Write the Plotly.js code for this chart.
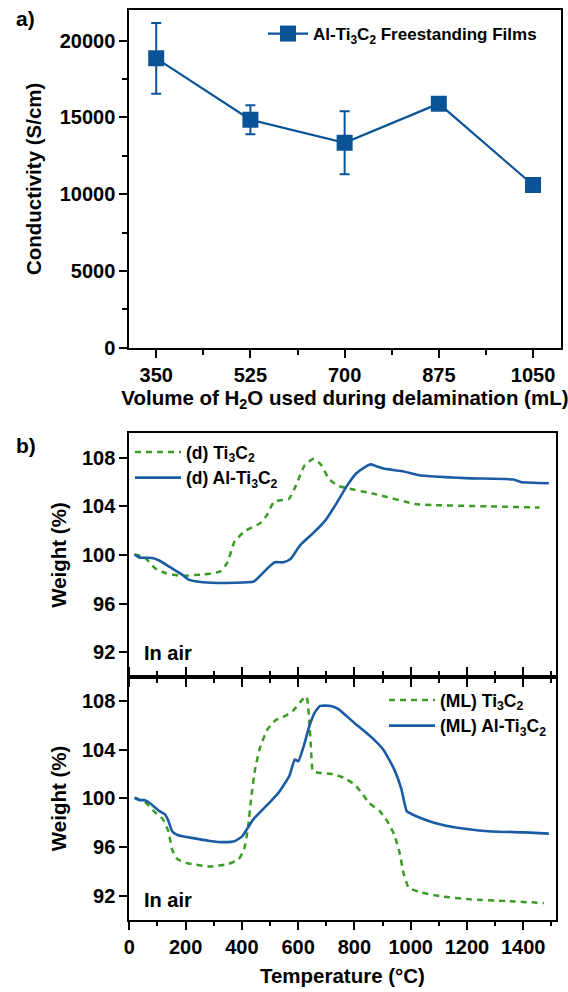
<!DOCTYPE html>
<html>
<head>
<meta charset="utf-8">
<script src="https://cdn.plot.ly/plotly-3.0.1.min.js"></script>
<style>html,body{margin:0;padding:0;background:#fff;}#chart{width:568px;height:992px;}</style>
</head>
<body>
<div id="chart"></div>
<script>
// ---- (a) conductivity data ----
const volumes = [350, 525, 700, 875, 1050];
const conductivity = [18850, 14850, 13350, 15900, 10600];
const conductivityErr = [2300, 950, 2050, 0, 0];
const volumeTicks = [350, 525, 700, 875, 1050];

// ---- (b) TGA, delaminated (d) ----
const dTi3C2_T = [18, 54, 92, 131, 182, 259, 323, 349, 374, 413, 464, 490, 515, 567, 592, 624, 656, 682, 708, 740, 772, 874, 1015, 1079, 1272, 1458];
const dTi3C2_W = [100.05, 99.8, 98.9, 98.5, 98.3, 98.4, 98.65, 99.4, 101.1, 102.0, 102.6, 103.3, 104.4, 104.6, 105.7, 107.4, 107.9, 107.4, 106.3, 105.7, 105.5, 105.0, 104.2, 104.1, 104.0, 103.9];
const dAlTi3C2_T = [19, 36, 81, 106, 145, 184, 209, 248, 312, 440, 452, 491, 517, 548, 574, 607, 658, 697, 735, 774, 806, 839, 858, 877, 903, 967, 1031, 1121, 1211, 1365, 1391, 1491];
const dAlTi3C2_W = [100.05, 99.8, 99.75, 99.55, 99.0, 98.45, 98.0, 97.8, 97.7, 97.8, 98.0, 98.9, 99.4, 99.4, 99.7, 100.8, 101.9, 102.85, 104.2, 105.7, 106.7, 107.25, 107.45, 107.3, 107.1, 106.9, 106.55, 106.4, 106.3, 106.2, 106.0, 105.9];

// ---- (b) TGA, multilayer (ML) ----
const mlTi3C2_T = [19, 55, 94, 119, 139, 152, 171, 209, 286, 351, 389, 408, 421, 434, 447, 466, 492, 518, 556, 582, 607, 627, 633, 640, 646, 652, 672, 723, 762, 800, 826, 851, 890, 916, 941, 961, 974, 993, 1031, 1108, 1211, 1340, 1474];
const mlTi3C2_W = [100.05, 99.7, 98.8, 98.3, 97.3, 95.8, 95.0, 94.65, 94.4, 94.6, 95.0, 95.8, 97.45, 100.2, 102.4, 104.3, 105.7, 106.4, 106.8, 107.2, 107.9, 108.4, 108.1, 106.2, 104.0, 102.25, 102.1, 102.0, 101.7, 101.15, 100.45, 99.65, 98.95, 98.15, 97.05, 95.5, 93.9, 92.65, 92.3, 91.95, 91.7, 91.55, 91.4];
const mlAlTi3C2_T = [19, 36, 55, 74, 107, 126, 139, 152, 171, 222, 286, 338, 376, 402, 440, 492, 530, 569, 588, 601, 620, 640, 659, 678, 717, 742, 800, 864, 903, 941, 967, 986, 1018, 1083, 1160, 1275, 1404, 1491];
const mlAlTi3C2_W = [100.05, 99.85, 99.85, 99.6, 98.95, 98.7, 98.15, 97.3, 96.99, 96.75, 96.5, 96.4, 96.5, 96.9, 98.25, 99.5, 100.45, 101.85, 103.2, 103.05, 104.3, 105.95, 107.05, 107.6, 107.6, 107.35, 106.2, 104.95, 104.0, 102.4, 100.75, 98.95, 98.55, 98.0, 97.6, 97.3, 97.2, 97.1];
const weightTicks = [92, 96, 100, 104, 108];

const W = 568, H = 992;
const px = v => v / W;
const py = v => 1 - v / H;
const FONT = 'Liberation Sans, Arial, Helvetica, sans-serif';
const blueTop = '#0b5397';
const blue = '#1a5ba3';
const green = '#3a9d23';
const bold = (size) => ({family: FONT, size: size, color: '#000', weight: 700});

const traces = [
  {
    x: volumes, y: conductivity, type: 'scatter', mode: 'lines+markers',
    name: 'Al-Ti<sub>3</sub>C<sub>2</sub> Freestanding Films',
    line: {color: blueTop, width: 2.2},
    marker: {symbol: 'square', size: 16, color: blueTop},
    error_y: {type: 'data', array: conductivityErr, visible: true, color: blueTop, thickness: 2, width: 5},
    xaxis: 'x', yaxis: 'y', legend: 'legend'
  },
  {
    x: dTi3C2_T, y: dTi3C2_W, type: 'scatter', mode: 'lines', name: '(d) Ti<sub>3</sub>C<sub>2</sub>',
    line: {color: green, width: 2.5, dash: '6px,5px', shape: 'spline', smoothing: 0.5},
    xaxis: 'x2', yaxis: 'y2', legend: 'legend2'
  },
  {
    x: dAlTi3C2_T, y: dAlTi3C2_W, type: 'scatter', mode: 'lines', name: '(d) Al-Ti<sub>3</sub>C<sub>2</sub>',
    line: {color: blue, width: 2.6, shape: 'spline', smoothing: 0.5},
    xaxis: 'x2', yaxis: 'y2', legend: 'legend2'
  },
  {
    x: mlTi3C2_T, y: mlTi3C2_W, type: 'scatter', mode: 'lines', name: '(ML) Ti<sub>3</sub>C<sub>2</sub>',
    line: {color: green, width: 2.5, dash: '6px,5px', shape: 'spline', smoothing: 0.4},
    xaxis: 'x3', yaxis: 'y3', legend: 'legend3'
  },
  {
    x: mlAlTi3C2_T, y: mlAlTi3C2_W, type: 'scatter', mode: 'lines', name: '(ML) Al-Ti<sub>3</sub>C<sub>2</sub>',
    line: {color: blue, width: 2.6, shape: 'spline', smoothing: 0.4},
    xaxis: 'x3', yaxis: 'y3', legend: 'legend3'
  }
];

const axisBase = {
  showline: true, linecolor: '#000', linewidth: 2, showgrid: false, zeroline: false,
  ticks: 'outside', ticklen: 8, tickwidth: 2, tickcolor: '#000',
  tickfont: bold(20), automargin: false
};

const layout = {
  width: W, height: H,
  margin: {l: 0, r: 0, t: 0, b: 0},
  paper_bgcolor: '#fff', plot_bgcolor: '#fff',
  font: {family: FONT, color: '#000'},
  showlegend: true,
  xaxis: Object.assign({}, axisBase, {
    domain: [px(129.3), px(560.5)], anchor: 'y', range: [300, 1101],
    tickmode: 'array', tickvals: volumeTicks, mirror: true,
    minor: {tickvals: [437.5, 612.5, 787.5, 962.5], ticks: 'outside', ticklen: 5, tickwidth: 2, tickcolor: '#000'},
    title: {text: 'Volume of H<sub>2</sub>O used during delamination (mL)', font: bold(20.5), standoff: 6}
  }),
  yaxis: Object.assign({}, axisBase, {
    domain: [py(347.7), py(10)], anchor: 'x', range: [0, 22000],
    tickmode: 'linear', tick0: 0, dtick: 5000, tickformat: 'd', mirror: true,
    minor: {dtick: 2500, ticks: 'outside', ticklen: 5, tickwidth: 2, tickcolor: '#000'},
    title: {text: 'Conductivity (S/cm)', font: bold(20.5), standoff: 12}
  }),
  xaxis2: Object.assign({}, axisBase, {
    domain: [px(129.3), px(555.6)], anchor: 'y2', range: [0, 1515],
    tickmode: 'linear', tick0: 0, dtick: 200, showticklabels: false, mirror: true,
    minor: {dtick: 100, ticks: 'outside', ticklen: 4, tickwidth: 2, tickcolor: '#000'}
  }),
  yaxis2: Object.assign({}, axisBase, {
    domain: [py(676.7), py(433.3)], anchor: 'x2', range: [90, 110],
    tickmode: 'array', tickvals: weightTicks, mirror: true,
    title: {text: 'Weight (%)', font: bold(20.5), standoff: 10}
  }),
  xaxis3: Object.assign({}, axisBase, {
    domain: [px(129.3), px(555.6)], anchor: 'y3', range: [0, 1515],
    tickmode: 'linear', tick0: 0, dtick: 200, mirror: 'ticks',
    minor: {dtick: 100, ticks: 'outside', ticklen: 4, tickwidth: 2, tickcolor: '#000'},
    title: {text: 'Temperature (°C)', font: bold(20.5), standoff: 12}
  }),
  yaxis3: Object.assign({}, axisBase, {
    domain: [py(920), py(676.7)], anchor: 'x3', range: [90, 110],
    tickmode: 'array', tickvals: weightTicks, mirror: true,
    title: {text: 'Weight (%)', font: bold(20.5), standoff: 10}
  }),
  legend: {
    x: px(263), y: py(34), xanchor: 'left', yanchor: 'middle',
    bgcolor: 'rgba(0,0,0,0)', borderwidth: 0, font: bold(17), itemwidth: 40
  },
  legend2: {
    x: px(130), y: py(465), xanchor: 'left', yanchor: 'middle',
    bgcolor: 'rgba(0,0,0,0)', borderwidth: 0, font: bold(17.5), itemwidth: 46, tracegroupgap: 0
  },
  legend3: {
    x: px(384), y: py(713), xanchor: 'left', yanchor: 'middle',
    bgcolor: 'rgba(0,0,0,0)', borderwidth: 0, font: bold(17.5), itemwidth: 46, tracegroupgap: 0
  },
  annotations: [
    {text: 'a)', x: px(14), y: py(18), xref: 'paper', yref: 'paper', xanchor: 'left', yanchor: 'middle', showarrow: false, font: bold(21)},
    {text: 'b)', x: px(14), y: py(445), xref: 'paper', yref: 'paper', xanchor: 'left', yanchor: 'middle', showarrow: false, font: bold(21)},
    {text: 'In air', x: px(142), y: py(653), xref: 'paper', yref: 'paper', xanchor: 'left', yanchor: 'middle', showarrow: false, font: bold(20)},
    {text: 'In air', x: px(142), y: py(900), xref: 'paper', yref: 'paper', xanchor: 'left', yanchor: 'middle', showarrow: false, font: bold(20)}
  ]
};

Plotly.newPlot('chart', traces, layout, {displayModeBar: false, staticPlot: true});
</script>
</body>
</html>
